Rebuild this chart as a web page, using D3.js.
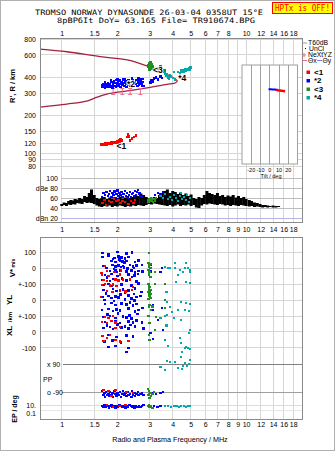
<!DOCTYPE html>
<html><head><meta charset="utf-8">
<script src="https://cdn.jsdelivr.net/npm/d3@7/dist/d3.min.js"></script>
<style>
body{margin:0;background:#fff}
svg{display:block}
text{font-family:"Liberation Sans",Arial,sans-serif;fill:#000}
</style></head><body>
<svg id="c" width="335" height="451"></svg>
<script>
// ---------------- DATA ----------------
const freqTicksTop = [1,1.5,2,3,4,5,6,7,8,10,12,14,16,18];
const freqTicksBottom = [1,1.5,2,3,4,5,6,7,8,9,10,12,14,16,18];
const heightTicks = [800,600,400,300,200,150,120,100,90,80];
const dbTicks = [100,80,60,40,20];
const dbTickLabels = ["100","dBe 80","60","40","dBn 20"];
const lowerTicks = [500,400,300,200,100,0,-100];
const lowerTickLabels = ["100","0","+-100","0","+-100","0","-100"];
const tiltTicks = [-20,-10,0,10,20];
const tiltGrid = [-20,-10,0,10,20];

// model profile (frequency MHz, height km)
const profile = [[0.763,667],[1.068,635],[1.614,581],[2.264,547],[3.015,482],[3.417,452],[3.87,409],[4.12,387],[4.23,374],[4.12,360],[3.87,354],[3.417,344],[3.015,333],[2.264,312],[1.761,295],[1.555,279],[1.384,261],[1.068,246],[0.763,233]];
const nextYZ = [[1.90,309],[2.13,309],[2.35,309],[2.67,309]];

// echo traces: frequency, virtual height
const redR = [[1.63,118],[1.65,117],[1.67,119],[1.69,117],[1.71,118],[1.73,120],[1.75,118],[1.77,119],[1.79,121],[1.81,119],[1.83,120],[1.85,122],[1.87,120],[1.89,121],[1.91,123],[1.93,121],[1.95,124],[1.97,122],[1.99,125],[2.01,123],[2.03,126],[2.05,128],[2.07,125],[2.09,130],[2.11,127],[2.27,135],[2.29,142],[2.31,137],[2.35,127],[2.41,131],[2.47,135],[2.53,139]];
const blueR = [[1.65,345],[1.66,336],[1.68,355],[1.70,341],[1.72,332],[1.74,350],[1.76,337],[1.78,360],[1.79,346],[1.81,334],[1.83,355],[1.85,341],[1.86,366],[1.88,332],[1.90,350],[1.92,372],[1.93,341],[1.95,360],[1.97,334],[1.98,380],[2.00,350],[2.02,366],[2.03,341],[2.05,376],[2.07,355],[2.09,336],[2.11,368],[2.13,350],[2.15,385],[2.17,360],[2.19,341],[2.21,372],[2.23,355],[2.25,336],[2.27,366],[2.29,350],[2.31,380],[2.33,360],[2.35,341],[2.37,368],[2.39,353],[2.41,336],[2.43,376],[2.45,360],[2.47,346],[2.50,368],[2.52,355],[2.55,380],[2.57,341],[2.60,364],[2.62,350],[2.65,385],[2.67,372],[2.70,355],[2.72,346],[2.75,366],[2.78,341],[1.72,368],[1.85,376],[2.00,385],[2.20,388],[2.40,392],[2.60,395],[2.75,388],[3.02,365],[3.06,380],[3.10,372],[3.16,390],[3.25,400],[3.33,385],[3.42,405],[3.50,395]];
const greenR = [[2.93,500],[2.95,480],[2.97,515],[2.99,470],[3.01,495],[3.03,520],[3.05,478],[3.08,505],[3.00,460],[2.96,490],[3.12,485],[3.38,470],[3.42,488],[3.45,462],[3.10,465],[3.64,440],[3.60,452]];
const tealR = [[3.64,430],[3.68,410],[3.73,420],[3.77,400],[3.82,390],[3.87,415],[3.92,405],[4.02,395],[4.12,385],[4.07,440],[4.28,440],[4.38,430],[4.44,450],[4.50,440],[4.55,455],[4.61,445],[4.67,460],[4.72,450],[4.78,465],[4.84,455],[4.90,470],[4.96,462],[5.00,475]];
const traceLabels = [["<1",1.98,115],["*2",2.26,354],["<3",3.13,456],["*4",4.28,395]];

// tilt inset (tilt deg, height km)
const tiltBlue = [[-1.3,321],[1,321],[3,320],[5,320],[7,319],[9.4,318]];
const tiltRed = [[6.6,318],[9,316],[11,315],[13,313],[15,311],[16.6,310]];

// amplitude noise (frequency, low dB, high dB)
const noiseF  = [1.00,1.03,1.06,1.09,1.12,1.15,1.18,1.21,1.25,1.29,1.33,1.37,1.41,1.45,1.50,1.55,1.60,1.65,1.70,1.76,1.82,1.88,1.94,2.00,2.07,2.14,2.21,2.28,2.36,2.44,2.52,2.60,2.69,2.78,2.87,2.97,3.07,3.17,3.28,3.39,3.50,3.62,3.74,3.87,4.00,4.13,4.27,4.41,4.56,4.71,4.87,5.03,5.20,5.37,5.55,5.74,5.93,6.13,6.33,6.54,6.76,6.99,7.22,7.46,7.71,7.97,8.24,8.51,8.80,9.09,9.40,9.71,10.0,10.4,10.7,11.1,11.5,11.9,12.3,12.7,13.1,13.5,14.0,14.5,15.0];
const noiseLo = [44,46,44,47,46,48,47,50,49,48,52,50,51,50,48,45,43,42,44,43,45,42,44,43,45,44,42,44,43,45,44,46,45,44,46,48,47,49,48,47,46,45,44,46,43,45,47,44,46,45,47,44,46,41,40,45,48,47,49,48,47,46,48,47,45,46,44,46,45,44,46,45,44,43,44,42,43,42,41,42,41,42,41,41,42];
const noiseHi = [48,51,50,54,56,55,58,57,60,58,64,62,70,77,66,60,58,60,62,58,61,59,62,60,63,59,61,64,60,62,66,64,69,66,62,60,58,62,60,66,70,74,77,70,74,72,68,71,66,69,64,67,60,58,62,60,66,74,70,68,66,70,64,66,62,65,63,66,61,64,60,62,58,56,54,51,50,48,46,46,45,44,45,44,44];
const blueDb = [[1.65,62],[1.68,70],[1.72,66],[1.75,72],[1.78,64],[1.80,68],[1.83,74],[1.86,62],[1.88,70],[1.91,66],[1.93,73],[1.96,60],[1.98,68],[2.01,75],[2.03,64],[2.06,70],[2.09,66],[2.11,72],[2.14,62],[2.17,68],[2.20,74],[2.23,64],[2.26,70],[2.29,60],[2.32,66],[2.35,72],[2.38,62],[2.41,68],[2.44,70],[2.47,64],[2.50,74],[2.53,66],[2.56,72],[2.59,76],[2.62,68],[2.65,70],[2.68,64],[2.72,62],[3.21,66],[3.33,70],[3.42,68],[3.55,72]];
const redDb = [[1.66,50],[1.70,56],[1.74,46],[1.80,54],[1.86,52],[1.92,58],[1.98,54],[2.03,56],[2.08,50],[2.14,54],[2.20,52],[2.30,48],[2.38,54],[2.45,50],[2.50,56]];
const greenDb = [[2.93,56],[2.96,52],[2.99,58],[3.02,54],[3.05,60],[3.08,56],[3.12,52],[3.16,58],[3.20,55],[3.25,60]];
const tealDb = [[3.42,64],[3.55,60],[3.64,68],[3.77,58],[3.87,62],[3.97,56],[4.07,66],[4.17,60],[4.28,54],[4.38,64],[4.44,70],[4.50,58],[4.61,62],[4.72,56],[4.78,66],[4.90,52],[4.96,60]];

// drift velocity / location panel (frequency, stacked value)
const blueDrift = [[1.66,494],[1.79,488],[2.01,500],[2.25,491],[2.41,497],[1.66,469],[1.79,475],[1.93,463],[2.03,472],[2.11,466],[2.30,469],[1.90,456],[2.05,452],[2.20,459],[1.86,444],[1.95,438],[2.07,447],[2.13,441],[2.19,435],[2.25,444],[2.50,438],[2.61,447],[2.72,420],[1.68,413],[1.88,419],[1.96,410],[2.03,416],[2.10,407],[2.15,413],[2.35,419],[2.44,410],[2.55,416],[1.75,400],[1.92,394],[2.18,403],[2.28,397],[2.46,400],[1.83,381],[1.95,388],[1.99,375],[2.07,384],[2.25,378],[2.39,385],[2.50,372],[2.61,381],[2.75,380],[1.72,356],[1.86,363],[2.01,350],[2.30,359],[2.48,353],[2.59,362],[1.76,340],[2.12,334],[2.40,344],[1.65,325],[1.83,319],[1.90,331],[2.25,322],[2.35,328],[2.55,316],[1.68,294],[1.79,300],[1.86,288],[2.11,297],[2.39,291],[2.61,303],[1.68,263],[1.90,269],[1.98,256],[2.15,266],[2.30,259],[2.50,272],[2.70,250],[1.74,240],[2.08,234],[2.20,244],[2.46,238],[1.66,219],[1.79,225],[1.86,213],[1.95,222],[2.03,216],[2.30,228],[2.39,210],[2.55,219],[2.67,225],[1.70,200],[1.92,194],[2.20,203],[2.48,197],[1.72,175],[1.86,181],[1.96,169],[2.11,178],[2.25,172],[2.35,184],[2.44,166],[2.55,175],[2.74,150],[1.65,138],[1.79,144],[1.90,131],[1.98,141],[2.07,135],[2.30,147],[2.50,128],[2.61,138],[1.77,110],[2.02,116],[2.33,104],[2.58,113],[1.68,94],[1.83,100],[1.95,88],[2.15,97],[2.25,91],[2.39,85],[1.72,63],[1.95,69],[2.07,56],[2.30,66],[2.44,60],[2.55,72],[2.72,60],[1.76,40],[2.00,46],[2.20,34],[2.36,43],[1.68,25],[1.83,31],[1.90,19],[2.11,28],[2.30,22],[2.50,34],[2.77,20],[1.65,-25],[1.79,-19],[1.98,-31],[2.25,-22],[2.44,-28],[1.70,-60],[1.88,-54],[2.10,-66],[1.79,-94],[1.95,-88],[2.30,-100],[2.25,-125],[3.02,420],[3.05,380],[3.50,400],[3.42,375],[3.13,169],[3.10,138],[3.50,150],[3.33,75],[3.55,13],[3.02,-6],[3.13,-44]];
const redDrift = [[1.72,413],[1.64,369],[1.76,381],[1.93,375],[2.10,385],[1.65,356],[1.79,350],[2.07,360],[1.68,325],[1.76,319],[1.95,328],[2.03,322],[2.15,330],[1.65,294],[1.72,300],[1.83,290],[1.90,297],[1.98,288],[2.44,281],[2.41,263],[1.76,256],[1.88,250],[2.07,260],[2.21,253],[2.35,330],[1.63,219],[1.72,94],[1.79,88],[1.90,100],[1.65,63],[1.76,56],[1.86,69],[1.96,60],[1.95,25],[2.07,31],[1.66,-25],[1.83,-19],[1.76,-38],[1.68,-56],[1.95,-50],[2.07,-60],[2.30,-56]];
const greenDrift = [[2.98,494],[2.95,431],[3.00,419],[2.97,406],[3.02,400],[2.96,388],[3.00,375],[2.98,360],[3.02,344],[3.21,375],[3.02,425],[2.95,300],[2.98,290],[3.00,281],[2.97,270],[3.02,263],[2.99,256],[2.96,250],[3.00,244],[3.03,238],[2.98,231],[3.00,225],[3.02,213],[2.95,206],[3.21,300],[3.64,300],[3.64,200],[3.64,150],[3.00,169],[2.97,156],[3.05,138],[3.10,160],[3.25,94],[2.95,100],[3.00,56],[3.21,13],[2.97,-19],[2.99,-50]];
const tealDrift = [[4.12,431],[4.72,431],[3.64,406],[3.77,400],[3.87,400],[4.12,400],[4.38,388],[4.67,400],[4.84,400],[4.96,388],[4.55,375],[4.28,356],[4.96,375],[4.17,313],[4.72,313],[4.96,306],[3.70,250],[3.73,188],[4.44,188],[4.72,181],[4.96,175],[3.87,156],[4.28,138],[4.67,138],[4.90,131],[3.97,125],[3.73,106],[4.07,88],[4.44,75],[3.42,88],[3.64,100],[3.70,40],[4.96,13],[4.90,-6],[4.38,-38],[3.64,-50],[3.77,-88],[4.44,-69],[4.67,-100],[4.84,-100],[4.50,-125],[4.72,-94],[4.96,-106],[4.44,-156],[3.87,-188],[4.12,-188],[4.55,-213],[4.78,-213],[4.90,-200],[3.64,-238],[4.50,-231],[3.42,-219],[3.73,-181],[4.96,-175],[4.28,-225],[4.67,-194]];
// polarization rows
const bluePP = [[1.65,-369],[1.68,-394],[1.70,-381],[1.72,-406],[1.74,-375],[1.76,-394],[1.79,-388],[1.81,-400],[1.83,-375],[1.86,-394],[1.88,-381],[1.90,-406],[1.93,-369],[1.95,-388],[1.98,-400],[2.01,-381],[2.03,-394],[2.07,-375],[2.10,-406],[2.13,-388],[2.15,-369],[2.19,-394],[2.21,-381],[2.25,-400],[2.28,-375],[2.30,-394],[2.35,-388],[2.39,-406],[2.41,-369],[2.44,-394],[2.48,-381],[2.50,-400],[2.55,-388],[2.59,-375],[2.61,-394],[2.67,-388],[2.72,-381],[2.77,-394],[3.13,-381],[3.25,-388],[3.42,-381],[3.55,-375]];
const redPP = [[1.68,-363],[1.79,-369],[1.95,-363],[2.25,-375],[2.44,-381],[1.86,-400]];
const greenPP = [[2.93,-356],[2.98,-369],[3.02,-381],[2.95,-394],[3.05,-400],[3.10,-388],[3.00,-412],[3.17,-375],[2.97,-388]];
const blueEP = [[1.65,-462],[1.68,-469],[1.71,-456],[1.74,-469],[1.77,-462],[1.80,-475],[1.83,-462],[1.86,-456],[1.89,-469],[1.92,-462],[1.95,-475],[1.98,-462],[2.01,-469],[2.05,-456],[2.09,-462],[2.13,-469],[2.17,-462],[2.21,-475],[2.25,-462],[2.29,-469],[2.33,-456],[2.37,-462],[2.41,-469],[2.45,-462],[2.49,-475],[2.53,-462],[2.57,-469],[2.62,-462],[2.67,-469],[2.72,-462],[2.77,-456],[3.17,-462],[3.30,-469],[3.42,-462]];
const redEP = [[1.76,-456],[2.05,-462],[2.21,-456],[1.90,-469]];
const greenEP = [[2.95,-462],[3.00,-469],[3.05,-462],[3.10,-475],[2.98,-456]];
const tealEP = [[3.64,-462],[3.77,-462],[3.92,-469],[4.07,-462],[4.20,-462],[4.33,-469],[4.44,-462],[4.61,-462],[4.72,-469],[4.84,-462],[4.96,-462]];

const colors = {red:"#ff0000", blue:"#0000ff", green:"#1f8f1f", teal:"#00aaaa"};
const legendTraces = [["<1","red"],["*2","blue"],["<3","green"],["*4","teal"]];

// ---------------- DRAW ----------------
const svg = d3.select("#c");
const L = 40, R = 302, T1 = 38, B1 = 222, T2 = 237, B2 = 419;
const x = d3.scaleLog().domain([0.762, 20.1]).range([L, R]);
const yR = d3.scaleLog().domain([80, 800]).range([166, 39]);
const yDb = d3.scaleLinear().domain([20, 100]).range([218, 178]);
const yLo = d3.scaleLinear().domain([-544, 594]).range([B2, T2]);
const xT = d3.scaleLinear().domain([-30, 30]).range([242, 297.5]);

svg.append("rect").attr("x",0.5).attr("y",0.5).attr("width",334).attr("height",450).attr("fill","#fff").attr("stroke","#b0b0b0");

// titles
svg.append("text").attr("x",35).attr("y",14.6).attr("textLength",228).attr("lengthAdjust","spacingAndGlyphs")
  .style("font-family","'DejaVu Sans Mono',monospace").style("font-size","7.4px")
  .text("TROMSO NORWAY   DYNASONDE 26-03-04 0358UT 15°E");
svg.append("text").attr("x",57).attr("y",23).attr("textLength",198).attr("lengthAdjust","spacingAndGlyphs")
  .style("font-family","'DejaVu Sans Mono',monospace").style("font-size","7.4px")
  .text("8pBP6It DoY=  63.165 File= TR910674.BPG");
svg.append("rect").attr("x",272.5).attr("y",2.5).attr("width",60).attr("height",11).attr("fill","#ffff00").attr("stroke","#ff0000");
svg.append("text").attr("x",275).attr("y",11.3).attr("textLength",55).attr("lengthAdjust","spacingAndGlyphs")
  .style("font-family","'DejaVu Sans Mono',monospace").style("font-size","8px").style("fill","#ff0000")
  .text("HPTx is OFF!");

const gridC = "#d6d6d6";
// vertical grid
[[T1,B1],[T2,B2]].forEach(([t,b])=>{
  svg.append("g").selectAll("line").data(freqTicksBottom).join("line")
    .attr("x1",d=>x(d)).attr("x2",d=>x(d)).attr("y1",t).attr("y2",b)
    .attr("stroke",gridC).attr("stroke-width",1).attr("shape-rendering","crispEdges");
});
// top horizontal grid
svg.append("g").selectAll("line").data(heightTicks).join("line")
  .attr("x1",L).attr("x2",R).attr("y1",d=>yR(d)).attr("y2",d=>yR(d))
  .attr("stroke",gridC).attr("shape-rendering","crispEdges");
// dB grid
svg.append("g").selectAll("line").data(dbTicks).join("line")
  .attr("x1",61).attr("x2",R).attr("y1",d=>yDb(d)).attr("y2",d=>yDb(d))
  .attr("stroke",d=>d===20?"#b4b4e6":"#bdbdbd").attr("shape-rendering","crispEdges");
// lower grid
svg.append("g").selectAll("line").data(lowerTicks).join("line")
  .attr("x1",L).attr("x2",R).attr("y1",d=>yLo(d)).attr("y2",d=>yLo(d))
  .attr("stroke",gridC).attr("shape-rendering","crispEdges");
svg.append("line").attr("x1",63).attr("x2",R).attr("y1",yLo(-206)).attr("y2",yLo(-206)).attr("stroke","#808080").attr("shape-rendering","crispEdges");
svg.append("line").attr("x1",62).attr("x2",R).attr("y1",yLo(-381)).attr("y2",yLo(-381)).attr("stroke","#a0a0a0").attr("shape-rendering","crispEdges");
svg.append("line").attr("x1",L).attr("x2",R).attr("y1",yLo(-462)).attr("y2",yLo(-462)).attr("stroke","#dcdcdc").attr("shape-rendering","crispEdges");
svg.append("line").attr("x1",L).attr("x2",R).attr("y1",yLo(-490)).attr("y2",yLo(-490)).attr("stroke","#e6e6e6").attr("shape-rendering","crispEdges");

// axes labels
const fs = "7px";
const axTop = svg.append("g").attr("transform",`translate(0,${T1})`)
  .call(d3.axisTop(x).tickValues(freqTicksTop).tickFormat(d3.format("")).tickSize(0).tickPadding(2.3));
const axMid = svg.append("g").attr("transform",`translate(0,${B1})`)
  .call(d3.axisBottom(x).tickValues(freqTicksBottom).tickFormat(d3.format("")).tickSize(0).tickPadding(5.3));
const axBot = svg.append("g").attr("transform",`translate(0,${B2})`)
  .call(d3.axisBottom(x).tickValues(freqTicksBottom).tickFormat(d3.format("")).tickSize(0).tickPadding(3.3));
const axH = svg.append("g").attr("transform",`translate(${L},0)`)
  .call(d3.axisLeft(yR).tickValues(heightTicks).tickFormat(d3.format("")).tickSize(0).tickPadding(4));
const axLo = svg.append("g").attr("transform",`translate(${L},0)`)
  .call(d3.axisLeft(yLo).tickValues(lowerTicks).tickFormat((d,i)=>lowerTickLabels[i]).tickSize(0).tickPadding(4));
const axDb = svg.append("g").attr("transform",`translate(58,0)`)
  .call(d3.axisLeft(yDb).tickValues(dbTicks).tickFormat((d,i)=>dbTickLabels[i]).tickSize(0).tickPadding(0));
[axTop,axMid,axBot,axH,axLo,axDb].forEach(g=>{
  g.select(".domain").remove();
  g.selectAll("text").attr("font-family","Liberation Sans, Arial, sans-serif").attr("font-size",fs).attr("fill","#000");
});

// extra lower labels
const lab = (t,xx,yy,anchor)=>svg.append("text").attr("x",xx).attr("y",yy).attr("dy","0.32em")
  .attr("text-anchor",anchor||"start").style("font-size",fs).text(t);
lab("x 90",47,yLo(-206));
lab("PP",43,yLo(-300));
lab("o -90",47,yLo(-381));
lab("10.",36,yLo(-462),"end");
lab("0.1",36,yLo(-512),"end");

// rotated side labels
const rot = (t,xx,yy,size)=>svg.append("text").attr("transform",`translate(${xx},${yy}) rotate(-90)`)
  .attr("text-anchor","middle").attr("dy","0.35em").style("font-size",size||"7.5px").style("font-weight","bold").text(t);
rot("R', R / km",12.5,86);
const vs = svg.append("text").attr("transform",`translate(9,268) rotate(-90)`).attr("text-anchor","middle").attr("dy","0.35em").style("font-weight","bold");
vs.append("tspan").style("font-size","8px").text("V*");
vs.append("tspan").style("font-size","5px").text(" m/s");
rot("YL",9,300,"8px");
rot("/km",10,317,"6px");
rot("XL",9,331,"8px");
rot("EP / deg",15,409,"7px");

// x title
svg.append("text").attr("x",170).attr("y",442).attr("text-anchor","middle").style("font-size","7.2px").text("Radio and Plasma Frequency / MHz");

// profile
svg.append("path").datum(profile)
  .attr("d",d3.line().x(d=>x(d[0])).y(d=>yR(d[1])).curve(d3.curveCatmullRom.alpha(0.5)))
  .attr("fill","none").attr("stroke","#a3203f").attr("stroke-width",1.3);

// helper for square markers
function sq(data, ys, color, s){
  s = s||2.6;
  svg.append("g").selectAll("rect").data(data).join("rect")
    .attr("x",d=>x(d[0])-s/2).attr("y",d=>ys(d[1])-s/2).attr("width",s).attr("height",s)
    .attr("fill",color).attr("shape-rendering","crispEdges");
}

// NeXtYZ markers
const nx = svg.append("g").attr("stroke","#e8708e").attr("stroke-width",1);
nextYZ.forEach(d=>{
  const cx=x(d[0]), cy=yR(d[1]);
  nx.append("line").attr("x1",cx).attr("x2",cx).attr("y1",cy-3).attr("y2",cy+3);
  nx.append("line").attr("x1",cx-2).attr("x2",cx+2).attr("y1",cy-3).attr("y2",cy-3);
  nx.append("line").attr("x1",cx-2).attr("x2",cx+2).attr("y1",cy+3).attr("y2",cy+3);
});

// top traces
sq(blueR,yR,colors.blue); sq(redR,yR,colors.red); sq(greenR,yR,colors.green); sq(tealR,yR,colors.teal);
svg.append("g").selectAll("text").data(traceLabels).join("text")
  .attr("x",d=>x(d[1])).attr("y",d=>yR(d[2])).attr("dy","0.35em")
  .style("font-size","8.5px").style("font-weight","bold")
  .attr("stroke","#fff").attr("stroke-width",1.6).attr("paint-order","stroke").text(d=>d[0]);

// noise band
svg.append("g").selectAll("line").data(noiseF).join("line")
  .attr("x1",d=>x(d)).attr("x2",d=>x(d))
  .attr("y1",(d,i)=>yDb(noiseLo[i])).attr("y2",(d,i)=>yDb(noiseHi[i]))
  .attr("stroke","#000").attr("stroke-width",3);
sq(blueDb,yDb,colors.blue); sq(redDb,yDb,colors.red); sq(greenDb,yDb,colors.green); sq(tealDb,yDb,colors.teal);

// lower panel
sq(blueDrift,yLo,colors.blue); sq(redDrift,yLo,colors.red); sq(greenDrift,yLo,colors.green); sq(tealDrift,yLo,colors.teal);
sq(bluePP,yLo,colors.blue); sq(redPP,yLo,colors.red); sq(greenPP,yLo,colors.green);
sq(blueEP,yLo,colors.blue); sq(redEP,yLo,colors.red); sq(greenEP,yLo,colors.green); sq(tealEP,yLo,colors.teal);

// inset
svg.append("rect").attr("x",242).attr("y",65).attr("width",55.5).attr("height",99).attr("fill","#fff").attr("stroke","#a0a0a0");
svg.append("g").selectAll("line").data(tiltGrid).join("line")
  .attr("x1",d=>xT(d)).attr("x2",d=>xT(d)).attr("y1",65).attr("y2",164).attr("stroke","#a0a0a0").attr("shape-rendering","crispEdges");
svg.append("path").datum(tiltBlue).attr("d",d3.line().x(d=>xT(d[0])).y(d=>yR(d[1]))).attr("fill","none").attr("stroke",colors.blue).attr("stroke-width",2);
svg.append("path").datum(tiltRed).attr("d",d3.line().x(d=>xT(d[0])).y(d=>yR(d[1]))).attr("fill","none").attr("stroke",colors.red).attr("stroke-width",2.5);
svg.append("g").selectAll("text").data(tiltTicks).join("text")
  .attr("x",d=>xT(d)).attr("y",172).attr("text-anchor","middle").style("font-size","5.5px").text(d=>d);
svg.append("text").attr("x",271).attr("y",177.5).attr("text-anchor","middle").style("font-size","5.5px").text("Tilt / deg");

// frames
svg.append("rect").attr("x",L).attr("y",T1).attr("width",R-L).attr("height",B1-T1).attr("fill","none").attr("stroke","#8a8a8a").attr("shape-rendering","crispEdges");
svg.append("rect").attr("x",L).attr("y",T2).attr("width",R-L).attr("height",B2-T2).attr("fill","none").attr("stroke","#8a8a8a").attr("shape-rendering","crispEdges");

// legend
const lg = svg.append("g").style("font-size","6.8px");
lg.append("line").attr("x1",302).attr("x2",307).attr("y1",43).attr("y2",43).attr("stroke","#999");
lg.append("text").attr("x",308).attr("y",43).attr("dy","0.35em").text("T60dB");
lg.append("rect").attr("x",305).attr("y",48).attr("width",1).attr("height",1).attr("fill","#000");
lg.append("text").attr("x",309).attr("y",48.5).attr("dy","0.35em").text("UnCl");
lg.append("line").attr("x1",302).attr("x2",306).attr("y1",55).attr("y2",55).attr("stroke","#e8708e");
lg.append("line").attr("x1",304).attr("x2",304).attr("y1",53).attr("y2",57).attr("stroke","#e8708e");
lg.append("text").attr("x",308).attr("y",55).attr("dy","0.35em").text("NeXtYZ");
lg.append("line").attr("x1",302).attr("x2",307).attr("y1",60.5).attr("y2",60.5).attr("stroke","#e8708e");
lg.append("text").attr("x",308).attr("y",60.5).attr("dy","0.35em").text("Θx");
lg.append("line").attr("x1",317).attr("x2",322).attr("y1",60.5).attr("y2",60.5).attr("stroke","#8080ff");
lg.append("text").attr("x",322.5).attr("y",60.5).attr("dy","0.35em").text("Θy");
legendTraces.forEach(([t,c],i)=>{
  const yy = 72 + i*8.5;
  lg.append("rect").attr("x",306.5).attr("y",yy-1.5).attr("width",3.5).attr("height",3.5).attr("fill",colors[c]);
  lg.append("text").attr("x",314).attr("y",yy).attr("dy","0.35em").style("font-size","8px").style("font-weight","bold").text(t);
});
</script>
</body></html>
